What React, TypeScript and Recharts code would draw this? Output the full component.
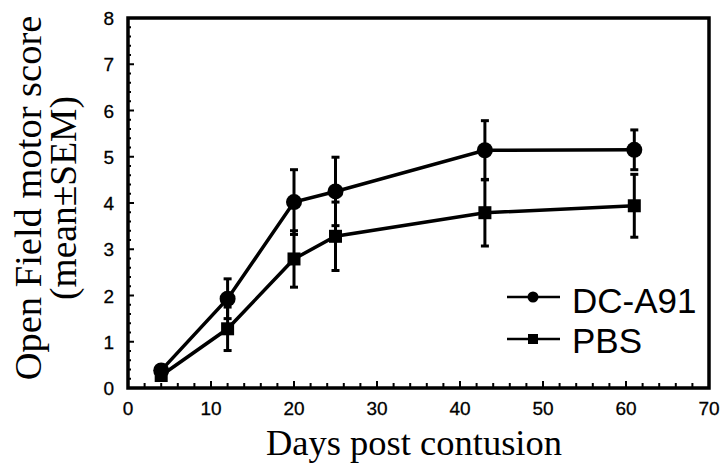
import React from 'react';
import { ComposedChart, Line, XAxis, YAxis, ErrorBar, ReferenceArea, Label } from 'recharts';

const days = [4, 12, 20, 25, 43, 61];
const dcMean = [0.38, 1.93, 4.02, 4.25, 5.14, 5.15];
const dcSem = [0.08, 0.43, 0.7, 0.74, 0.64, 0.43];
const pbsMean = [0.27, 1.28, 2.79, 3.28, 3.79, 3.94];
const pbsSem = [0.08, 0.47, 0.61, 0.74, 0.72, 0.68];
const seriesNames = ['DC-A91', 'PBS'];
const xTicks = Array.from({ length: 36 }, (_, i) => i * 2);
const yTicks = Array.from({ length: 41 }, (_, i) => i / 5);
const xTitle = 'Days post contusion';
const yTitle1 = 'Open Field motor score';
const yTitle2 = '(mean\u00B1SEM)';

const data = days.map((d, i) => ({
  day: d,
  dc: dcMean[i],
  dcErr: dcSem[i],
  pbs: pbsMean[i],
  pbsErr: pbsSem[i],
}));

const SANS = '"Liberation Sans", Arial, Helvetica, sans-serif';
const SERIF = '"Liberation Serif", "Times New Roman", serif';

const XTick = (props: any) => {
  const { x, y, payload } = props;
  const v = payload.value;
  const major = v % 10 === 0;
  return (
    <g>
      <line x1={x} x2={x} y1={y} y2={y - (major ? 7 : 5)} stroke="#000" strokeWidth={2} />
      {major && (
        <text x={x} y={y + 27} textAnchor="middle" fontSize={19} fontFamily={SANS} fill="#000" stroke="#000" strokeWidth={0.3}>
          {v}
        </text>
      )}
    </g>
  );
};

const YTick = (props: any) => {
  const { x, y, payload } = props;
  const v = payload.value;
  const major = Math.abs(v - Math.round(v)) < 1e-6;
  return (
    <g>
      <line x1={x} x2={x + (major ? 6 : 3)} y1={y} y2={y} stroke="#000" strokeWidth={2} />
      {major && (
        <text x={x - 14} y={y + 7} textAnchor="end" fontSize={19} fontFamily={SANS} fill="#000" stroke="#000" strokeWidth={0.3}>
          {Math.round(v)}
        </text>
      )}
    </g>
  );
};

const YTitle = () => {
  const cy = 198;
  return (
    <g>
      <text
        x={41}
        y={cy}
        transform={`rotate(-90, 41, ${cy})`}
        textAnchor="middle"
        fontSize={38.5}
        fontFamily={SERIF}
        fill="#000"
      >
        {yTitle1}
      </text>
      <text
        x={76}
        y={cy}
        transform={`rotate(-90, 76, ${cy})`}
        textAnchor="middle"
        fontSize={37.5}
        fontFamily={SERIF}
        fill="#000"
      >
        {yTitle2}
      </text>
    </g>
  );
};

const XTitle = () => (
  <text x={414} y={455} textAnchor="middle" fontSize={36.5} fontFamily={SERIF} fill="#000">
    {xTitle}
  </text>
);

const CircleDot = (p: any) => {
  if (p.cx == null || p.cy == null) return null;
  return <circle key={`c${p.index}`} cx={p.cx} cy={p.cy} r={8} fill="#000" />;
};

const SquareDot = (p: any) => {
  if (p.cx == null || p.cy == null) return null;
  return <rect key={`s${p.index}`} x={p.cx - 6.5} y={p.cy - 6.5} width={13} height={13} fill="#000" />;
};

const LegendBox = () => (
  <svg width={215} height={90} style={{ position: 'absolute', left: 500, top: 276 }}>
    <line x1={7} x2={60} y1={21} y2={21} stroke="#000" strokeWidth={2.5} />
    <circle cx={33} cy={21} r={5.5} fill="#000" />
    <text x={72} y={37} fontSize={35} fontFamily={SANS} fill="#000">
      {seriesNames[0]}
    </text>
    <line x1={7} x2={60} y1={63} y2={63} stroke="#000" strokeWidth={2.5} />
    <rect x={28} y={58} width={10} height={10} fill="#000" />
    <text x={72} y={77} fontSize={35} fontFamily={SANS} fill="#000">
      {seriesNames[1]}
    </text>
  </svg>
);

export default function App() {
  return (
    <div style={{ position: 'absolute', left: 0, top: 0, width: 720, height: 467, background: '#fff' }}>
      <ComposedChart
        width={720}
        height={467}
        data={data}
        margin={{ top: 18, left: 127, right: 11, bottom: 78 }}
      >
        <XAxis
          dataKey="day"
          type="number"
          domain={[0, 70]}
          ticks={xTicks}
          interval={0}
          height={1}
          tickSize={0}
          tickMargin={0}
          axisLine={false}
          tick={<XTick />}
        >
          <Label content={<XTitle />} />
        </XAxis>
        <YAxis
          type="number"
          domain={[0, 8]}
          ticks={yTicks}
          interval={0}
          width={1}
          tickSize={0}
          tickMargin={0}
          axisLine={false}
          tick={<YTick />}
        >
          <Label content={<YTitle />} />
        </YAxis>
        <ReferenceArea x1={0} x2={70} y1={0} y2={8} fill="none" stroke="#000" strokeWidth={3.5} />
        <Line
          dataKey="pbs"
          name={seriesNames[1]}
          stroke="#000"
          strokeWidth={3.5}
          dot={SquareDot}
          activeDot={false}
          isAnimationActive={false}
        >
          <ErrorBar dataKey="pbsErr" width={4} stroke="#000" strokeWidth={3} isAnimationActive={false} />
        </Line>
        <Line
          dataKey="dc"
          name={seriesNames[0]}
          stroke="#000"
          strokeWidth={3.5}
          dot={CircleDot}
          activeDot={false}
          isAnimationActive={false}
        >
          <ErrorBar dataKey="dcErr" width={4} stroke="#000" strokeWidth={3} isAnimationActive={false} />
        </Line>
      </ComposedChart>
      <LegendBox />
    </div>
  );
}
